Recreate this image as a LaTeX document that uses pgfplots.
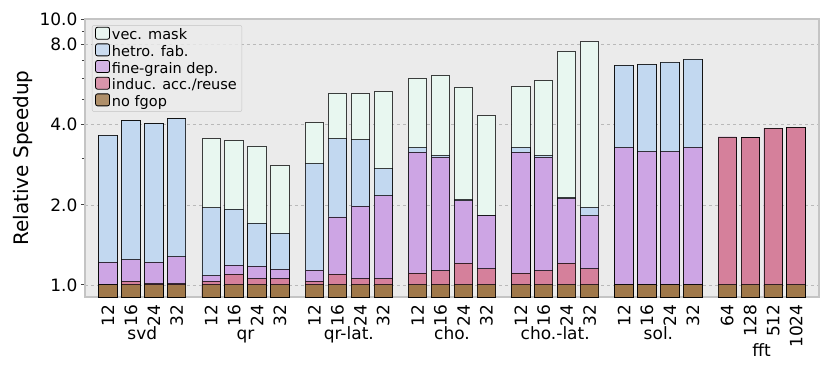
\documentclass[border=0pt]{standalone}
\usepackage{pgfplots}
\usepackage{pgfplotstable}
\usepackage{fontspec}
\setmainfont{DejaVu Sans}
\pgfplotsset{compat=1.18}

\definecolor{cvec}{HTML}{E8F7F0}
\definecolor{chet}{HTML}{C2D8F0}
\definecolor{cfine}{HTML}{CDA5E4}
\definecolor{cind}{HTML}{D5809B}
\definecolor{cnof}{HTML}{A0784A}
\definecolor{bgcol}{HTML}{EBEBEB}
\definecolor{framecol}{HTML}{C4C4C4}

% x: bar position, then top of each layer (bars overlap, all start at the bottom)
\pgfplotstableread{
x    vec   het   fine  ind   nof
0    3.65  3.65  1.217 1.00  1.0
1    4.14  4.14  1.245 1.03  1.0
2    4.03  4.03  1.217 1.01  1.0
3    4.21  4.21  1.275 1.01  1.0
4.5  3.55  1.949 1.084 1.03  1.0
5.5  3.48  1.926 1.186 1.097 1.0
6.5  3.33  1.706 1.175 1.056 1.0
7.5  2.81  1.565 1.145 1.056 1.0
9    4.07  2.86  1.136 1.03  1.0
10   5.26  3.55  1.80  1.097 1.0
11   5.23  3.51  1.977 1.056 1.0
12   5.32  2.73  2.16  1.056 1.0
13.5 5.99  3.28  3.16  1.106 1.0
14.5 6.15  3.06  3.02  1.129 1.0
15.5 5.54  2.09  2.07  1.206 1.0
16.5 4.32  1.83  1.823 1.149 1.0
18   5.59  3.28  3.16  1.106 1.0
19   5.86  3.06  3.02  1.129 1.0
20   7.57  2.13  2.11  1.206 1.0
21   8.23  1.954 1.823 1.149 1.0
22.5 6.69  6.69  3.28  1.00  1.0
23.5 6.75  6.75  3.17  1.00  1.0
24.5 6.88  6.88  3.17  1.00  1.0
25.5 7.07  7.07  3.29  1.00  1.0
27   3.60  3.60  3.60  3.60  1.0
28   3.57  3.57  3.57  3.57  1.0
29   3.88  3.88  3.88  3.88  1.0
30   3.90  3.90  3.90  3.90  1.0
}\speedup

\begin{document}
\begin{tikzpicture}[font=\fontsize{17}{20}\selectfont]
\begin{axis}[
  name=ax,
  scale only axis,
  width=734pt, height=278pt,
  ymode=log, log origin=infty,
  ymin=0.9, ymax=10,
  xmin=-1, xmax=31,
  ytick={1,2,4,8,10},
  yticklabels={1.0,2.0,4.0,8.0,10.0},
  minor ytick={3,5,6,7,9},
  xtick={0,1,2,3,4.5,5.5,6.5,7.5,9,10,11,12,13.5,14.5,15.5,16.5,18,19,20,21,22.5,23.5,24.5,25.5,27,28,29,30},
  xticklabels={12,16,24,32,12,16,24,32,12,16,24,32,12,16,24,32,12,16,24,32,12,16,24,32,64,128,512,1024},
  xticklabel style={rotate=90, anchor=east},
  x tick style={draw=none},
  ytick pos=left, tick align=outside,
  major tick length=4pt, minor tick length=3pt,
  y tick style={black!75, line width=0.8pt},
  ymajorgrids=true,
  major grid style={dashed, gray!55, line width=0.6pt},
  axis background/.style={fill=bgcol},
  axis line style={framecol, line width=1.2pt},
  ylabel={Relative Speedup},
  ylabel style={font=\fontsize{20}{24}\selectfont},
  ybar, bar width=0.8, bar shift=0pt,
  every axis plot/.append style={draw=black, draw opacity=0.75, line width=0.9pt},
  legend style={at={(0.0095,0.978)}, anchor=north west,
    fill=bgcol, fill opacity=0.8, text opacity=1, draw=framecol, rounded corners=2pt,
    font=\fontsize{14.5}{17}\selectfont, row sep=0pt, inner xsep=3pt, inner ysep=1.5pt},
  legend cell align=left,
  legend image code/.code={\draw[#1, draw opacity=1, line width=0.8pt] (0pt,-4pt) rectangle (14pt,8pt);},
  clip=false,
]
\addplot[fill=cvec] table[x=x, y=vec] {\speedup};
\addplot[fill=chet] table[x=x, y=het] {\speedup};
\addplot[fill=cfine] table[x=x, y=fine] {\speedup};
\addplot[fill=cind] table[x=x, y=ind] {\speedup};
\addplot[fill=cnof] table[x=x, y=nof] {\speedup};
\legend{vec. mask, hetro. fab., fine-grain dep., induc. acc./reuse, no fgop}

\node[anchor=base] at ([yshift=-42pt]axis cs:1.5,0.9) {svd};
\node[anchor=base] at ([yshift=-42pt]axis cs:6,0.9) {qr};
\node[anchor=base] at ([yshift=-42pt]axis cs:10.5,0.9) {qr-lat.};
\node[anchor=base] at ([yshift=-42pt]axis cs:15,0.9) {cho.};
\node[anchor=base] at ([yshift=-42pt]axis cs:19.5,0.9) {cho.-lat.};
\node[anchor=base] at ([yshift=-42pt]axis cs:24,0.9) {sol.};
\node[anchor=base] at ([yshift=-59pt]axis cs:28.5,0.9) {fft};
\end{axis}
\path ([shift={(-85pt,-71pt)}]ax.south west) rectangle ([shift={(746pt,297pt)}]ax.south west);
\end{tikzpicture}
\end{document}
